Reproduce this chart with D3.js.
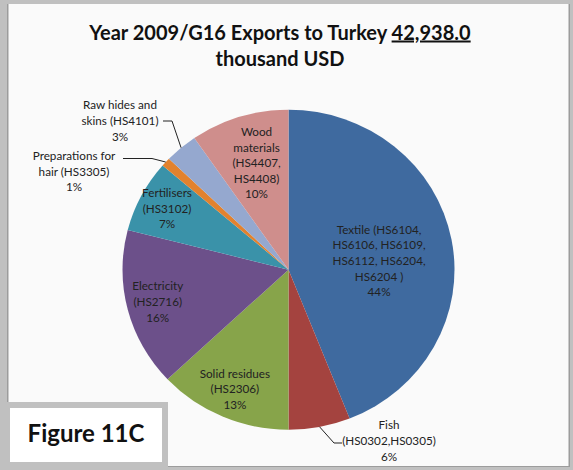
<!DOCTYPE html>
<html>
<head>
<meta charset="utf-8">
<script src="https://cdn.jsdelivr.net/npm/d3@7"></script>
<style>
body{margin:0;background:#c0c0c0;}
svg{display:block;}
text{font-family:Lato,"Open Sans",sans-serif;}
</style>
</head>
<body>
<script>
// data (thousand USD)
const categories=["Textile","Fish","Solid residues","Electricity","Fertilisers","Preparations for hair","Raw hides and skins","Wood materials"]
const labelLines=[
  ["Textile (HS6104,","HS6106, HS6109,","HS6112, HS6204,","HS6204 )"],
  ["Fish","(HS0302,HS0305)"],
  ["Solid residues","(HS2306)"],
  ["Electricity","(HS2716)"],
  ["Fertilisers","(HS3102)"],
  ["Preparations for","hair (HS3305)"],
  ["Raw hides and","skins (HS4101)"],
  ["Wood","materials","(HS4407,","HS4408)"]
]
const values=[18893,2576,5582,6870,3134,386,1374,4123]
const titleParts=["Year 2009/G16 Exports to Turkey ","42,938.0","thousand USD"]
const figureLabel="Figure 11C"

//constants
const w=573, h=470
const cx=288.5, cy=269.7
const R=166, sy=160/166
const lineH=15.6
const colors=["#3f6a9f","#a4433f","#87a44a","#6c508a","#3a92a9","#e2822e","#95a8cf","#cf8e8c"]

const color=d3.scaleOrdinal().domain(categories).range(colors)

const svg=d3.select("body").append("svg")
  .attr("width",w).attr("height",h)

//frame
svg.append("rect").attr("width",w).attr("height",h).attr("fill","#c0c0c0")
svg.append("rect").attr("x",7).attr("y",4).attr("width",563).attr("height",463).attr("fill","#9c9c9c")
svg.append("rect").attr("x",8.5).attr("y",4).attr("width",560).attr("height",462).attr("fill","#fafafa")

//title
const title=svg.append("text")
  .attr("text-anchor","middle")
  .attr("font-weight",700)
  .attr("font-size",20)
  .attr("fill","#111")
title.append("tspan").attr("x",280).attr("y",39.5).text(titleParts[0])
title.append("tspan").style("text-decoration","underline").text(titleParts[1])
title.append("tspan").attr("x",280).attr("y",66).text(titleParts[2])

//pie
const total=d3.sum(values)
const pie=d3.pie().sort(null).value(d=>d.value)
const arcs=pie(categories.map((c,i)=>({name:c,value:values[i],lines:labelLines[i]})))
const arc=d3.arc().innerRadius(0).outerRadius(R)

const g=svg.append("g")
  .attr("transform","translate("+cx+","+cy+") scale(1,"+sy+")")
g.selectAll("path")
  .data(arcs)
  .enter()
  .append("path")
  .attr("d",arc)
  .attr("fill",d=>color(d.data.name))

//label placement helpers
const polar=(a,r)=>[cx+r*Math.sin(a), cy-r*Math.cos(a)*sy]
const mid=d=>(d.startAngle+d.endAngle)/2
const pct=d=>Math.round(d.value/total*100)+"%"

// inner labels: radius and angle nudge per slice
const inner={"Textile":[91,0.089],"Solid residues":[135,0],"Electricity":[135,0],"Fertilisers":[137,0],"Wood materials":[115,0.02]}
// outer labels: block centre, elbow and end of the leader
const outer={
  "Raw hides and skins":{x:120,y:121,elbow:[172,121],end:163},
  "Preparations for hair":{x:74,y:171.7,elbow:[152,158.5],end:123},
  "Fish":{x:389,y:441,elbow:[334,443],end:342}
}

function drawBlock(x,y,lines){
  const n=lines.length
  const t=svg.append("text")
    .attr("text-anchor","middle")
    .attr("font-size",11.7)
    .attr("fill","#222")
  lines.forEach((l,i)=>{
    t.append("tspan").attr("x",x).attr("y",y+(i-(n-1)/2)*lineH+4).text(l)
  })
}

arcs.forEach(d=>{
  const name=d.data.name
  if(inner[name]){
    const [r,da]=inner[name]
    const p=polar(mid(d)+da,r)
    drawBlock(p[0],p[1],d.data.lines.concat([pct(d)]))
  }else{
    const o=outer[name]
    const e=polar(mid(d),R)
    svg.append("path")
      .attr("d",d3.line()([e,o.elbow,[o.end,o.elbow[1]]]))
      .attr("fill","none")
      .attr("stroke","#222")
      .attr("stroke-width",1)
    drawBlock(o.x,o.y,d.data.lines.concat([pct(d)]))
  }
})

//figure tag
svg.append("rect").attr("x",0).attr("y",402).attr("width",168).attr("height",68).attr("fill","#c0c0c0")
svg.append("rect").attr("x",10).attr("y",408).attr("width",152).attr("height",54).attr("fill","#fff")
svg.append("text")
  .attr("x",86).attr("y",442)
  .attr("text-anchor","middle")
  .attr("font-weight",700)
  .attr("font-size",24)
  .attr("fill","#111")
  .text(figureLabel)
</script>
</body>
</html>
